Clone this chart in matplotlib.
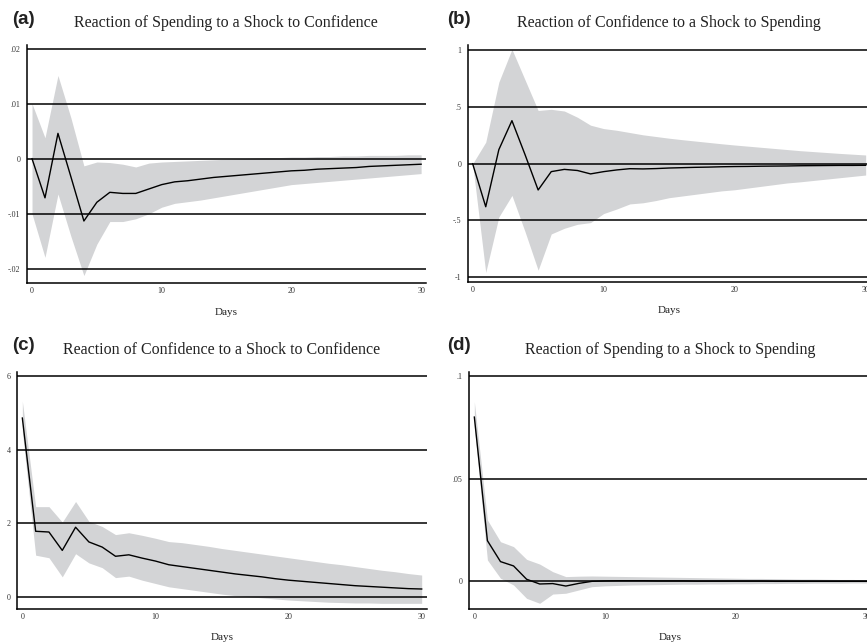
import matplotlib.pyplot as plt
import numpy as np

days = np.arange(31)

# (a) spending <- shock to confidence
a_line = [0.0001, -0.0070, 0.0047, -0.0032, -0.0112, -0.0078, -0.0060, -0.0062, -0.0062, -0.0054,
          -0.0046, -0.0041, -0.0039, -0.0036, -0.0033, -0.0031, -0.0029, -0.0027, -0.0025, -0.0023,
          -0.0021, -0.0020, -0.0018, -0.0017, -0.0016, -0.0015, -0.0013, -0.0012, -0.0011, -0.0010, -0.0009]
a_upper = [0.0101, 0.0039, 0.0152, 0.0075, -0.0012, -0.0005, -0.0006, -0.0009, -0.0014, -0.0007,
           -0.0005, -0.0004, -0.0003, -0.0002, -0.0001, 0.0000, 0.0001, 0.0002, 0.0003, 0.0003,
           0.0004, 0.0004, 0.0005, 0.0005, 0.0006, 0.0006, 0.0007, 0.0007, 0.0007, 0.0008, 0.0008]
a_lower = [-0.0099, -0.0178, -0.0063, -0.0140, -0.0211, -0.0154, -0.0113, -0.0113, -0.0108, -0.0099,
           -0.0087, -0.0080, -0.0077, -0.0074, -0.0070, -0.0066, -0.0062, -0.0058, -0.0054, -0.0050,
           -0.0046, -0.0044, -0.0042, -0.0040, -0.0038, -0.0036, -0.0034, -0.0032, -0.0030, -0.0028, -0.0026]

# (b) confidence <- shock to spending
b_line = [0.0, -0.38, 0.124, 0.38, 0.08, -0.232, -0.07, -0.05, -0.06, -0.09,
          -0.07, -0.055, -0.044, -0.046, -0.043, -0.038, -0.035, -0.032, -0.030, -0.027,
          -0.025, -0.024, -0.022, -0.021, -0.020, -0.018, -0.017, -0.016, -0.015, -0.015, -0.014]
b_upper = [0.0, 0.19, 0.72, 1.01, 0.74, 0.47, 0.48, 0.465, 0.41, 0.34,
           0.31, 0.295, 0.275, 0.255, 0.24, 0.225, 0.212, 0.200, 0.188, 0.176,
           0.165, 0.155, 0.145, 0.135, 0.125, 0.115, 0.107, 0.099, 0.091, 0.084, 0.077]
b_lower = [0.0, -0.96, -0.47, -0.28, -0.60, -0.94, -0.62, -0.57, -0.535, -0.52,
           -0.44, -0.40, -0.355, -0.345, -0.325, -0.30, -0.285, -0.27, -0.255, -0.24,
           -0.23, -0.215, -0.20, -0.185, -0.17, -0.16, -0.148, -0.136, -0.124, -0.112, -0.10]

# (c) confidence <- shock to confidence
c_line = [4.86, 1.78, 1.76, 1.26, 1.89, 1.49, 1.35, 1.10, 1.14, 1.05,
          0.97, 0.87, 0.82, 0.77, 0.72, 0.67, 0.62, 0.58, 0.54, 0.49,
          0.45, 0.42, 0.39, 0.36, 0.33, 0.30, 0.28, 0.26, 0.24, 0.22, 0.21]
c_upper = [5.32, 2.45, 2.45, 2.03, 2.59, 2.05, 1.91, 1.69, 1.74, 1.67,
           1.59, 1.50, 1.47, 1.42, 1.37, 1.31, 1.26, 1.21, 1.16, 1.11,
           1.06, 1.01, 0.96, 0.91, 0.87, 0.82, 0.77, 0.72, 0.68, 0.63, 0.59]
c_lower = [4.50, 1.13, 1.06, 0.54, 1.17, 0.92, 0.79, 0.52, 0.56, 0.45,
           0.36, 0.27, 0.22, 0.17, 0.12, 0.07, 0.03, 0.00, -0.03, -0.06,
           -0.09, -0.11, -0.13, -0.15, -0.16, -0.17, -0.17, -0.18, -0.18, -0.18, -0.18]

# (d) spending <- shock to spending
d_line = [0.080, 0.0198, 0.0096, 0.0075, 0.0010, -0.0013, -0.0011, -0.0023, -0.0010, 0.0000,
          0.0002, 0.0003, 0.0003, 0.0003, 0.0002, 0.0002, 0.0002, 0.0001, 0.0001, 0.0001,
          0.0001, 0.0001, 0.0001, 0.0000, 0.0000, 0.0000, 0.0000, 0.0000, 0.0000, 0.0000, 0.0000]
d_upper = [0.0875, 0.0299, 0.0193, 0.0169, 0.0107, 0.0084, 0.0047, 0.0023, 0.0025, 0.0026,
           0.0025, 0.0024, 0.0023, 0.0022, 0.0021, 0.0020, 0.0019, 0.0018, 0.0017, 0.0016,
           0.0015, 0.0014, 0.0014, 0.0013, 0.0012, 0.0011, 0.0011, 0.0010, 0.0009, 0.0009, 0.0008]
d_lower = [0.0753, 0.0104, 0.0015, -0.0018, -0.0083, -0.0107, -0.0062, -0.0058, -0.0042, -0.0026,
           -0.0022, -0.0020, -0.0018, -0.0017, -0.0016, -0.0015, -0.0014, -0.0014, -0.0013, -0.0013,
           -0.0012, -0.0012, -0.0011, -0.0011, -0.0010, -0.0010, -0.0009, -0.0009, -0.0009, -0.0008, -0.0008]

titles = ["Reaction of Spending to a Shock to Confidence",
          "Reaction of Confidence to a Shock to Spending",
          "Reaction of Confidence to a Shock to Confidence",
          "Reaction of Spending to a Shock to Spending"]
letters = ["a", "b", "c", "d"]
x_ticks = [0, 10, 20, 30]
y_ticks = [[-0.02, -0.01, 0, 0.01, 0.02], [-1, -0.5, 0, 0.5, 1], [0, 2, 4, 6], [0, 0.05, 0.1]]
y_ticklabels = [["-.02", "-.01", "0", ".01", ".02"], ["-1", "-.5", "0", ".5", "1"],
                ["0", "2", "4", "6"], ["0", ".05", ".1"]]

series = [(a_line, a_upper, a_lower), (b_line, b_upper, b_lower),
          (c_line, c_upper, c_lower), (d_line, d_upper, d_lower)]

# axes boxes in figure fraction, b and d run past the right edge like the source
boxes = [[0.0308, 0.5599, 0.4606, 0.3701],
         [0.5394, 0.5619, 0.4648, 0.3681],
         [0.0200, 0.0533, 0.4722, 0.3686],
         [0.5410, 0.0533, 0.4641, 0.3686]]
xlims = [(-0.41, 30.38), (-0.38, 30.38), (-0.376, 30.38), (-0.405, 30.38)]
ylims = [(-0.02245, 0.02073), (-1.0415, 1.0477), (-0.3265, 6.12), (-0.01335, 0.1021)]
# panel letter positions (figure fraction)
letter_pos = [(0.0138, 0.969), (0.5156, 0.969), (0.0138, 0.462), (0.5156, 0.462)]

serif = "Liberation Serif"
band_color = "#d3d4d6"

fig = plt.figure(figsize=(8.67, 6.43), dpi=100)

for i in range(4):
    ax = fig.add_axes(boxes[i])
    line, upper, lower = series[i]
    ax.fill_between(days, lower, upper, color=band_color, lw=0, zorder=1)
    for yv in y_ticks[i]:
        ax.axhline(yv, color="black", lw=1.1, zorder=2)
    ax.plot(days, line, color="black", lw=1.0, zorder=3)
    ax.set_xlim(*xlims[i])
    ax.set_ylim(*ylims[i])
    ax.set_xticks(x_ticks)
    ax.set_xticklabels([str(t) for t in x_ticks], family=serif, fontsize=5.8, color="#333333")
    ax.set_yticks(y_ticks[i])
    ax.set_yticklabels(y_ticklabels[i], family=serif, fontsize=5.8, color="#333333")
    ax.tick_params(axis="both", length=0)
    ax.tick_params(axis="y", pad=4.5)
    ax.tick_params(axis="x", pad=3)
    for s in ["top", "right"]:
        ax.spines[s].set_visible(False)
    for s in ["left", "bottom"]:
        ax.spines[s].set_linewidth(1.1)
    ax.set_xlabel("Days", family=serif, fontsize=8, labelpad=9, color="#222222")
    ax.set_title(titles[i], family=serif, fontsize=11.5, pad=13, color="#222222")
    fig.text(letter_pos[i][0], letter_pos[i][1], "(" + letters[i] + ")", fontsize=13.5,
             fontweight="bold", family="Liberation Sans", va="center", ha="left", color="#222222")

fig.savefig("out.png", dpi=100)
